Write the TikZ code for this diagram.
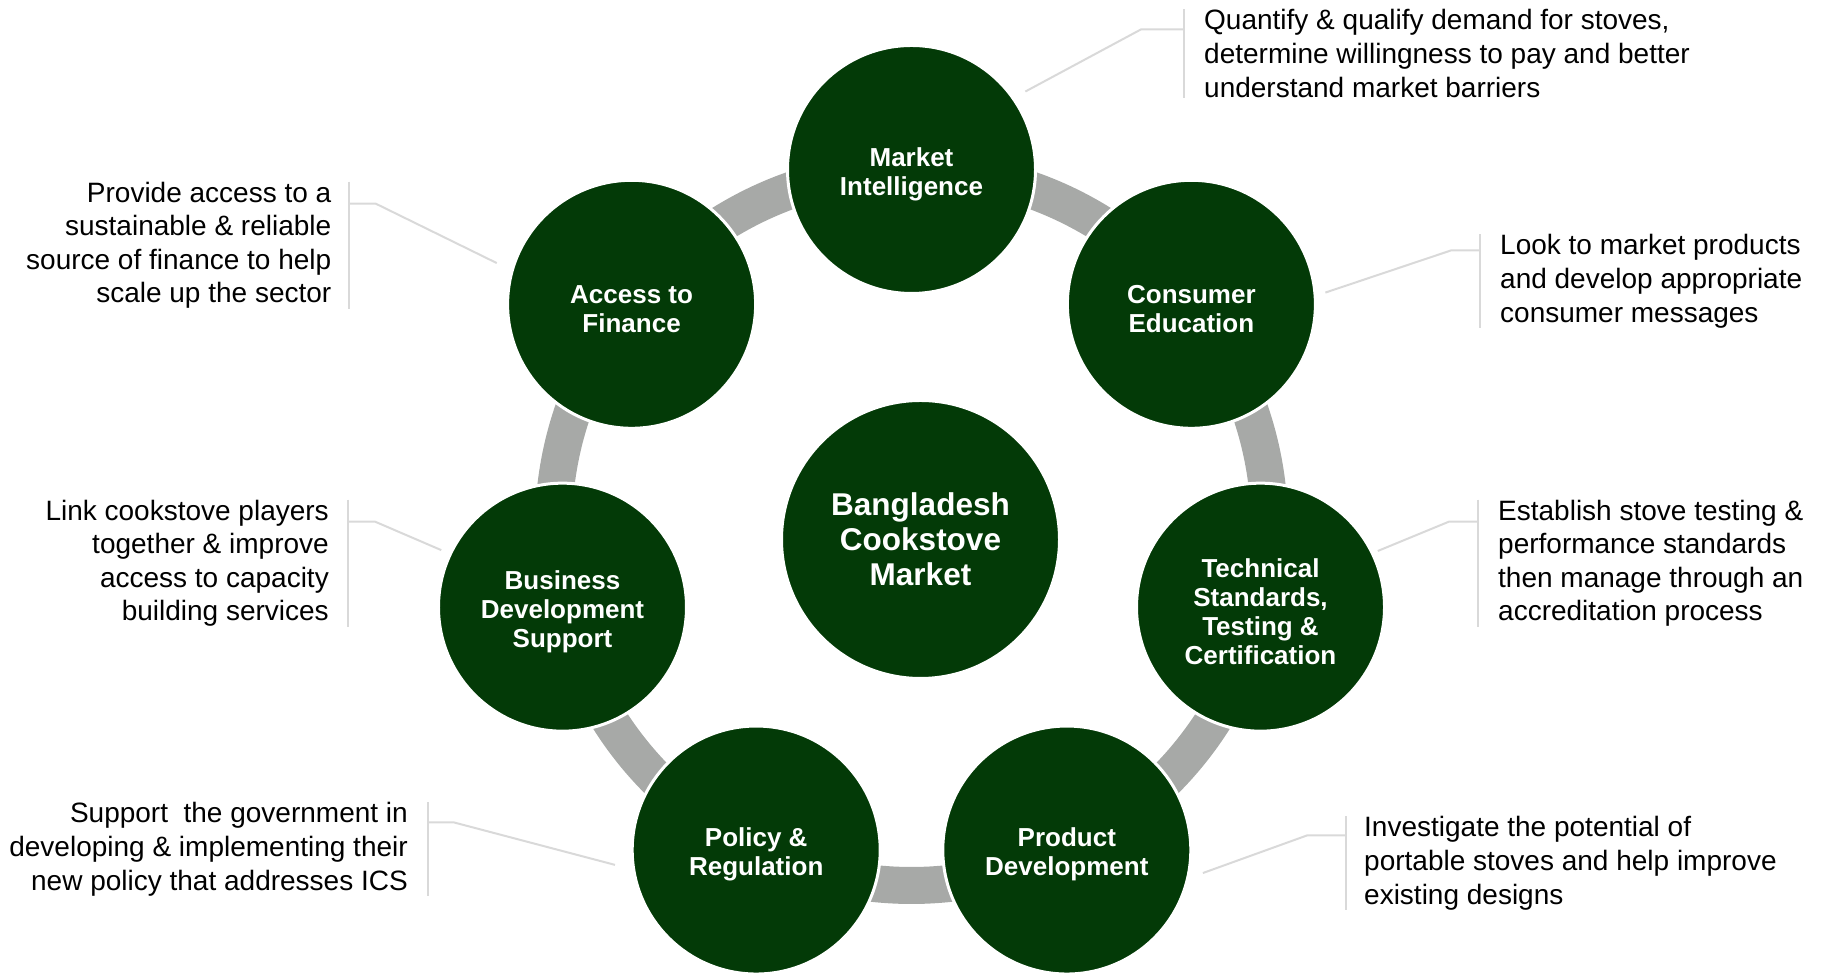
\documentclass[tikz,border=0pt]{standalone}
\usepackage{fontspec}
\setmainfont{Liberation Sans}
\usepackage{xcolor}
\usetikzlibrary{backgrounds}
\definecolor{stoveGreen}{HTML}{033A07}
\definecolor{ringGray}{HTML}{A7A9A7}
\definecolor{leadGray}{HTML}{D9D9D9}
% extra room above the first line of a pillar label
\newcommand{\hubtop}{\rule{0pt}{28pt}}

\begin{document}
\begin{tikzpicture}[x=1pt, y=1pt,
    hub/.style ={circle, draw=white, line width=3pt, fill=stoveGreen,
      minimum size=248pt, inner sep=0pt, outer sep=0pt, text=white,
      align=center, font=\fontsize{26}{29}\selectfont\bfseries},
    desc/.style ={inner sep=0pt, text=black,
      font=\fontsize{28}{33.6}\selectfont},
    ringLink/.style ={draw=ringGray, line width=37pt, bend left=25.7, looseness=0.9},
    leader/.style ={draw=leadGray, line width=2pt}]
    \useasboundingbox (0,0) rectangle (1824,973);
    % the seven pillars, evenly round the ring
    \begin{scope}[shift={(911.5,445.5)}]
      \node [hub] (mktInt) at (90:358) {\hubtop Market\\Intelligence};
      \node [hub] (consEdu) at (38.57:358) {\hubtop Consumer\\Education};
      \node [hub] (techStd) at (-12.86:358) {\hubtop Technical\\Standards,\\Testing \&\\Certification};
      \node [hub] (prodDev) at (-64.29:358) {\hubtop Product\\Development};
      \node [hub] (polReg) at (-115.71:358) {\hubtop Policy \&\\Regulation};
      \node [hub] (busDev) at (-167.14:358) {\hubtop Business\\Development\\Support};
      \node [hub] (accFin) at (141.43:358) {\hubtop Access to\\Finance};
      % centre
      \node [hub, minimum size=278pt, font=\fontsize{31.5}{35}\selectfont\bfseries]
        (ckMarket) at (9,-12) {Bangladesh\\Cookstove\\Market};
    \end{scope}
    % descriptions - right side
    \node [desc, anchor=west, align=left] (mktIntTxt) at (1204,919.5)
      {Quantify \& qualify demand for stoves,\\determine willingness to pay and better\\understand market barriers};
    \node [desc, anchor=west, align=left] (consEduTxt) at (1500,691.7)
      {Look to market products\\and develop appropriate\\consumer messages};
    \node [desc, anchor=west, align=left] (techStdTxt) at (1498,409.7)
      {Establish stove testing \&\\performance standards\\then manage through an\\accreditation process};
    \node [desc, anchor=west, align=left] (prodDevTxt) at (1364,109.7)
      {Investigate the potential of\\portable stoves and help improve\\existing designs};
    % descriptions - left side
    \node [desc, anchor=east, align=right] (accFinTxt) at (331.5,727.8)
      {Provide access to a\\sustainable \& reliable\\source of finance to help\\scale up the sector};
    \node [desc, anchor=east, align=right] (busDevTxt) at (329,409.7)
      {Link cookstove players\\together \& improve\\access to capacity\\building services};
    \node [desc, anchor=east, align=right] (polRegTxt) at (408,123.7)
      {Support\ \ the government in\\developing \& implementing their\\new policy that addresses ICS};
    % grey ring between the pillars
    \begin{scope}[on background layer]
      \path [ringLink] (mktInt.center) to (consEdu.center);
      \path [ringLink] (consEdu.center) to (techStd.center);
      \path [ringLink] (techStd.center) to (prodDev.center);
      \path [ringLink] (prodDev.center) to (polReg.center);
      \path [ringLink] (polReg.center) to (busDev.center);
      \path [ringLink] (busDev.center) to (accFin.center);
      \path [ringLink] (accFin.center) to (mktInt.center);
    \end{scope}
    % leader lines
    \begin{scope}[every path/.style=leader]
      \path ([xshift=-20pt]mktIntTxt.north west) -- ([xshift=-20pt]mktIntTxt.south west);
      \path ([xshift=-20pt,yshift=-20pt]mktIntTxt.north west) -- ++(-43,0) -- ([shift={(34.4:138)}]mktInt.center);
      \path ([xshift=-20pt]consEduTxt.north west) -- ([xshift=-20pt]consEduTxt.south west);
      \path ([xshift=-20pt,yshift=-16pt]consEduTxt.north west) -- ++(-29,0) -- ([shift={(5:134.5)}]consEdu.center);
      \path ([xshift=-20pt]techStdTxt.north west) -- ([xshift=-20pt]techStdTxt.south west);
      \path ([xshift=-20pt,yshift=-22pt]techStdTxt.north west) -- ++(-29,0) -- ([shift={(25.6:130)}]techStd.center);
      \path ([xshift=-18pt]prodDevTxt.north west) -- ([xshift=-18pt]prodDevTxt.south west);
      \path ([xshift=-18pt,yshift=-19pt]prodDevTxt.north west) -- ++(-39,0) -- ([shift={(-9.6:138)}]prodDev.center);
      \path ([xshift=17pt]accFinTxt.north east) -- ([xshift=17pt]accFinTxt.south east);
      \path ([xshift=17pt,yshift=-22pt]accFinTxt.north east) -- ++(27,0) -- ([shift={(163:141)}]accFin.center);
      \path ([xshift=19pt]busDevTxt.north east) -- ([xshift=19pt]busDevTxt.south east);
      \path ([xshift=19pt,yshift=-22pt]busDevTxt.north east) -- ++(27,0) -- ([shift={(154.8:134)}]busDev.center);
      \path ([xshift=20pt]polRegTxt.north east) -- ([xshift=20pt]polRegTxt.south east);
      \path ([xshift=20pt,yshift=-20pt]polRegTxt.north east) -- ++(26,0) -- ([shift={(186:142)}]polReg.center);
    \end{scope}
\end{tikzpicture}
\end{document}
